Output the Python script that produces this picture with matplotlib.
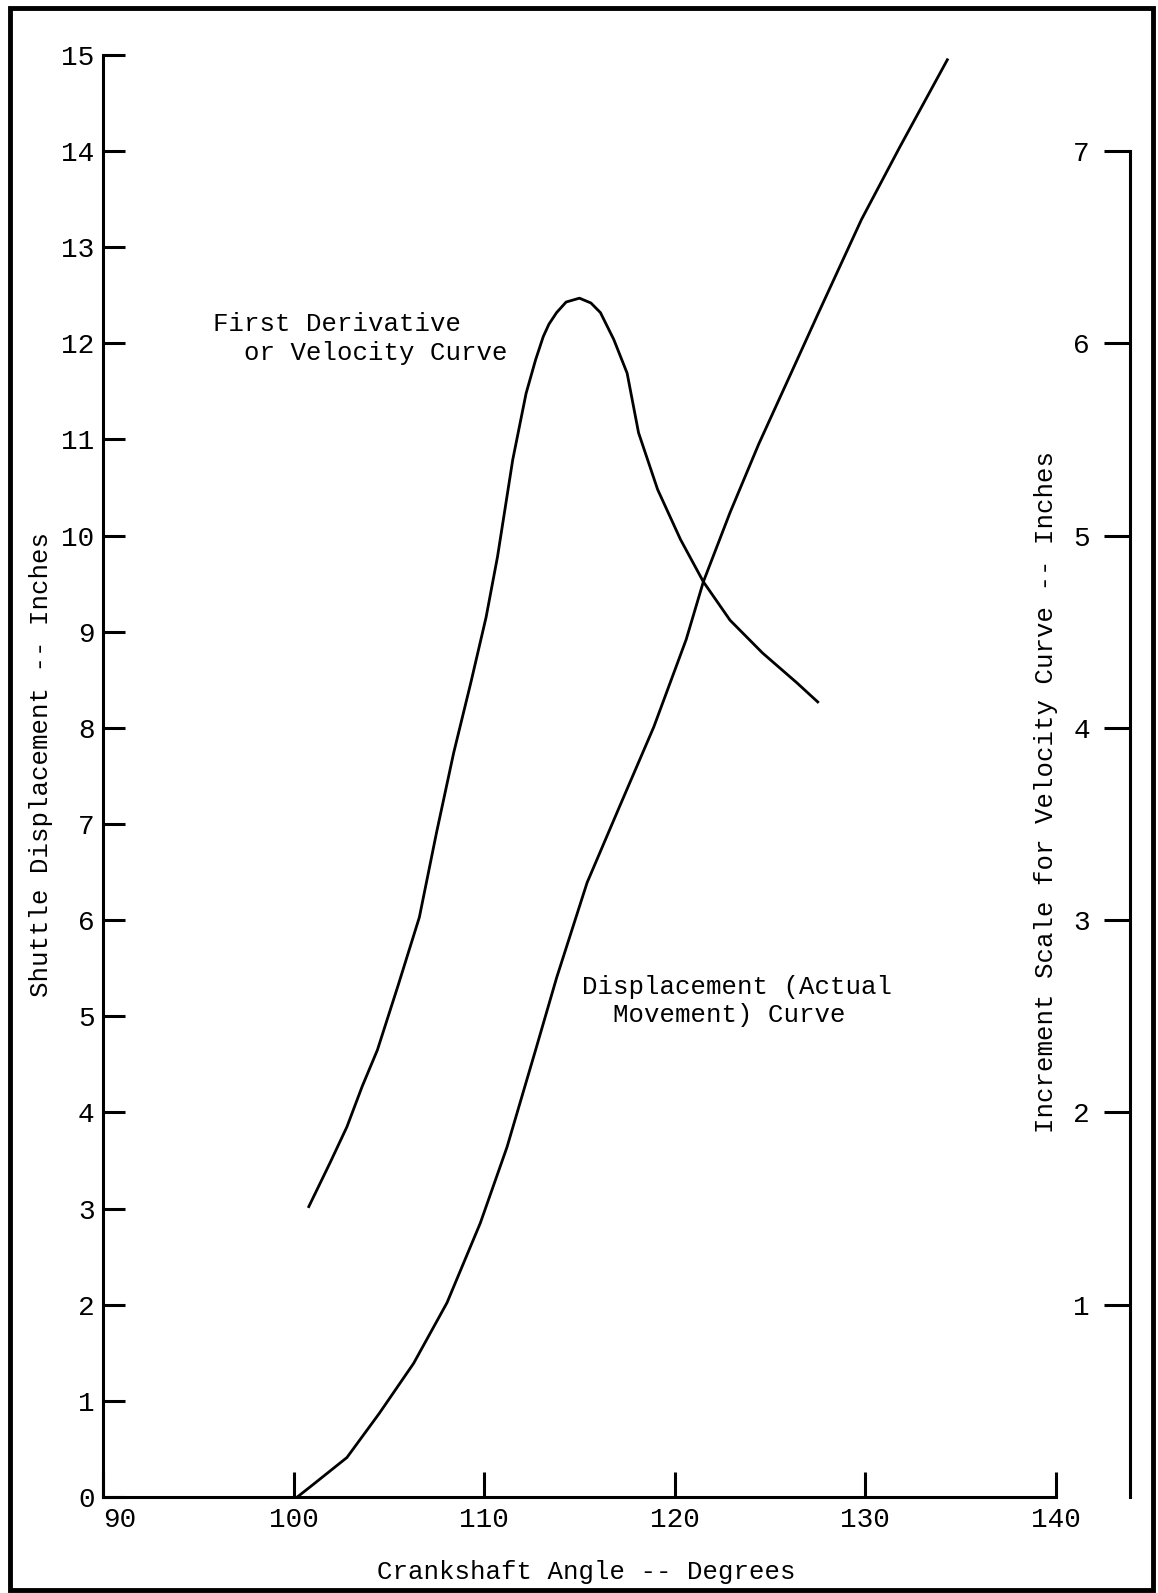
import numpy as np
import matplotlib.pyplot as plt
from matplotlib.patches import Rectangle

plt.rcParams['font.family'] = ['Liberation Mono', 'DejaVu Sans Mono']

# Displacement (actual movement) curve -- inches, left scale
disp_angle = [100.2, 101.0, 102.8, 104.5, 106.3, 108.05, 109.8, 111.2, 112.7, 113.8,
              115.4, 117.1, 118.9, 120.6, 121.5, 122.9, 124.4, 126.4, 127.5, 129.8,
              131.8, 134.3]
disp_inches = [0.0, 0.125, 0.41, 0.87, 1.39, 2.02, 2.85, 3.64, 4.65, 5.40,
               6.39, 7.18, 8.01, 8.92, 9.52, 10.24, 10.95, 11.82, 12.30, 13.29,
               14.04, 14.95]

# First derivative or velocity curve -- increment scale (right), inches
vel_angle = [100.8, 101.9, 102.8, 103.6, 104.4, 105.5, 106.6, 107.5, 108.4, 109.3,
             110.1, 110.7, 111.5, 112.2, 112.7, 113.1, 113.4, 113.8, 114.3, 115.0,
             115.6, 116.1, 116.8, 117.5, 118.1, 119.1, 120.3, 121.5, 122.9, 124.6,
             126.4, 127.5]
vel_increment = [1.51, 1.735, 1.925, 2.135, 2.325, 2.665, 3.015, 3.455, 3.87, 4.235,
                 4.575, 4.89, 5.395, 5.74, 5.915, 6.035, 6.10, 6.16, 6.215, 6.235,
                 6.21, 6.16, 6.02, 5.845, 5.535, 5.24, 4.98, 4.76, 4.56, 4.39,
                 4.235, 4.135]

x_ticks = [90, 100, 110, 120, 130, 140]
left_ticks = list(range(0, 16))
right_ticks = [1, 2, 3, 4, 5, 6, 7]

fig = plt.figure(figsize=(11.58, 15.93), dpi=100)
ax = fig.add_axes([0.0889, 0.0603, 0.8230, 0.9052])
ax.set_xlim(90, 140)
ax.set_ylim(0, 15)

# axes du graphique principal
for side in ['top', 'right']:
    ax.spines[side].set_visible(False)
for side in ['left', 'bottom']:
    ax.spines[side].set_linewidth(2.2)
ax.spines['left'].set_bounds(0, 15)
ax.spines['bottom'].set_bounds(90, 140)
ax.set_xticks(x_ticks)
ax.set_yticks(left_ticks)
ax.tick_params(axis='y', direction='in', length=16, width=2.2, pad=6, labelsize=20)
ax.tick_params(axis='x', direction='in', length=18, width=2.2, pad=7, labelsize=20)
ax.get_xticklabels()[0].set_ha('left')  # le "90" est tape a droite de l'axe

ax.plot(disp_angle, disp_inches, color='black', lw=2.0, clip_on=False)

# echelle de droite pour la courbe de vitesse
ax2 = ax.twinx()
ax2.set_ylim(0, 7.5)
for side in ['top', 'right', 'bottom']:
    ax2.spines[side].set_visible(False)
ax2.spines['left'].set_visible(True)
ax2.spines['left'].set_position(('axes', 1.0777))
ax2.spines['left'].set_bounds(0, 7)
ax2.spines['left'].set_linewidth(2.2)
ax2.yaxis.set_ticks_position('left')
ax2.yaxis.set_label_position('left')
ax2.set_yticks(right_ticks)
ax2.tick_params(axis='y', direction='out', length=19, width=2.2, pad=10, labelsize=20)

ax2.plot(vel_angle, vel_increment, color='black', lw=2.0, clip_on=False)

# textes
ax.text(95.77, 12.05, "First Derivative\n  or Velocity Curve", ha='left', va='center',
        fontsize=18.5, linespacing=1.25)
ax.text(115.13, 5.16, "Displacement (Actual\n  Movement) Curve", ha='left', va='center',
        fontsize=18.5, linespacing=1.25)

ax.set_xlabel("Crankshaft Angle -- Degrees", fontsize=18.5)
ax.xaxis.set_label_coords(0.507, -0.052)
ax.xaxis.label.set_va('center')
ax.set_ylabel("Shuttle Displacement -- Inches", fontsize=18.5)
ax.yaxis.set_label_coords(-0.0651, 0.508)
ax.yaxis.label.set_va('center')
ax2.set_ylabel("Increment Scale for Velocity Curve -- Inches", fontsize=18.5)
ax2.yaxis.set_label_coords(0.9895, 0.489)
ax2.yaxis.label.set_va('center')

# cadre de la page
fig.add_artist(Rectangle((10 / 1158, 3 / 1593), 1143 / 1158, 1582 / 1593,
                         transform=fig.transFigure, fill=False, lw=3.5,
                         edgecolor='black'))

fig.savefig('out.png', dpi=100)
